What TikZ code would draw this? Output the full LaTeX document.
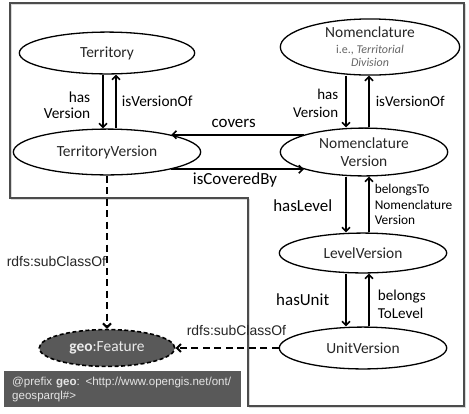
\documentclass[tikz,border=0pt]{standalone}
\usepackage{fontspec}
\setmainfont{Carlito}
\newfontfamily\arialf{Liberation Sans}
\usetikzlibrary{arrows.meta,shapes.geometric}
\begin{document}
\begin{tikzpicture}[x=1bp,y=-1bp,
  ell/.style={ellipse,draw=black,line width=1.3bp,inner sep=0pt,align=center,text=black!85,font=\fontsize{15.5}{18.5}\selectfont},
  arr/.style={line width=1.6bp,-{Straight Barb[length=4bp,width=8bp]}},
  darr/.style={arr,line width=2bp,dash pattern=on 7bp off 4.5bp},
  lab/.style={inner sep=0pt,text=black,font=\fontsize{15.4}{16.5}\selectfont},
  biglab/.style={inner sep=0pt,text=black,font=\fontsize{17}{19}\selectfont},
  rdfs/.style={inner sep=0pt,text=black!85,font=\arialf\fontsize{14}{16}\selectfont},
  frame/.style={draw=black!70,line width=1.4bp},
  shadow/.style={draw=black!15,line width=1.6bp}
]
\useasboundingbox (0,0) rectangle (469,413);
\fill[white] (0,0) rectangle (469,413);
% frame
\draw[shadow] (11.5,4.5) -- (465.5,4.5) -- (465.5,407.5) -- (249.5,407.5) -- (249.5,199.5) -- (11.5,199.5) -- cycle;
\draw[frame] (10,3) -- (464,3) -- (464,406) -- (248,406) -- (248,198) -- (10,198) -- cycle;
% nodes
\node[ell,minimum width=176,minimum height=42] (T) at (107,53) {Territory};
\node[ell,minimum width=188,minimum height=46] (TV) at (107,152) {TerritoryVersion};
\node[ell,minimum width=180,minimum height=52] (N) at (370,47) {Nomenclature\\[-2.5bp]{\fontsize{12}{13}\selectfont\color{black!60}i.e., \textit{Territorial}}\\[-5.5bp]{\fontsize{12}{13}\selectfont\color{black!60}\textit{Division}}};
\node[ell,minimum width=168,minimum height=48] (NV) at (364,152) {Nomenclature\\Version};
\node[ell,minimum width=168,minimum height=40] (LV) at (363,253) {LevelVersion};
\node[ell,minimum width=168,minimum height=42] (UV) at (363,348) {UnitVersion};
\node[ell,minimum width=136,minimum height=37,fill=black!65,line width=1.6bp,dash pattern=on 4bp off 2.5bp,text=white!92!black] (GF) at (107,348) {\textbf{geo}:Feature};
\node[anchor=north west,fill=black!65,text=white!90!black,minimum height=36,inner xsep=8bp,inner ysep=0pt,text width=221bp,align=left,font=\arialf\fontsize{11.6}{14}\selectfont] (P) at (4,371) {@prefix \textbf{geo}: <http://www.opengis.net/ont/\\geosparql\#>};
% x positions of vertical connectors
\coordinate (ta) at (103,0);
\coordinate (tb) at (116,0);
\coordinate (xa) at (346,0);
\coordinate (xb) at (369,0);
% Territory <-> TerritoryVersion
\draw[arr] (T.south -| ta) -- node[lab,midway,anchor=east,align=right,xshift=-12bp,yshift=-3.5bp]{has\\Version} (TV.north -| ta);
\draw[arr] (TV.north -| tb) -- node[lab,midway,anchor=west,xshift=5bp]{isVersionOf} (T.south -| tb);
% Nomenclature <-> NomenclatureVersion
\draw[arr] (N.south -| xa) -- node[lab,midway,anchor=east,align=right,xshift=-7bp,yshift=-2bp,font=\fontsize{15}{18}\selectfont]{has\\Version} (NV.north -| xa);
\draw[arr] (NV.north -| xb) -- node[lab,midway,anchor=west,xshift=6bp,font=\fontsize{15}{18}\selectfont]{isVersionOf} (N.south -| xb);
% NomenclatureVersion <-> LevelVersion
\draw[arr] (NV.south -| xa) -- node[biglab,midway,anchor=east,xshift=-13bp,yshift=-1.5bp]{hasLevel} (LV.north -| xa);
\draw[arr] (LV.north -| xb) -- node[lab,midway,anchor=west,align=left,xshift=5bp,font=\fontsize{13.4}{15.5}\selectfont]{belongsTo\\Nomenclature\\Version} (NV.south -| xb);
% LevelVersion <-> UnitVersion
\draw[arr] (LV.south -| xa) -- node[biglab,midway,anchor=east,xshift=-16bp]{hasUnit} (UV.north -| xa);
\draw[arr] (UV.north -| xb) -- node[lab,midway,anchor=west,align=left,xshift=8bp,yshift=-4bp,font=\fontsize{15.2}{18}\selectfont]{belongs\\ToLevel} (LV.south -| xb);
% covers / isCoveredBy
\draw[arr] (NV.164) -- node[biglab,pos=0.53,yshift=11bp]{covers} (NV.164 -| TV.15);
\draw[arr] (TV.-15) -- node[biglab,pos=0.48,yshift=-11bp]{isCoveredBy} (TV.-15 -| NV.196);
% subClassOf
\draw[darr] (TV.south) -- node[rdfs,pos=0.56,anchor=east,xshift=0bp]{rdfs:subClassOf} (GF.north);
\draw[darr] (UV.west) -- node[rdfs,pos=0.41,yshift=17bp]{rdfs:subClassOf} (GF.east);
\end{tikzpicture}
\end{document}
